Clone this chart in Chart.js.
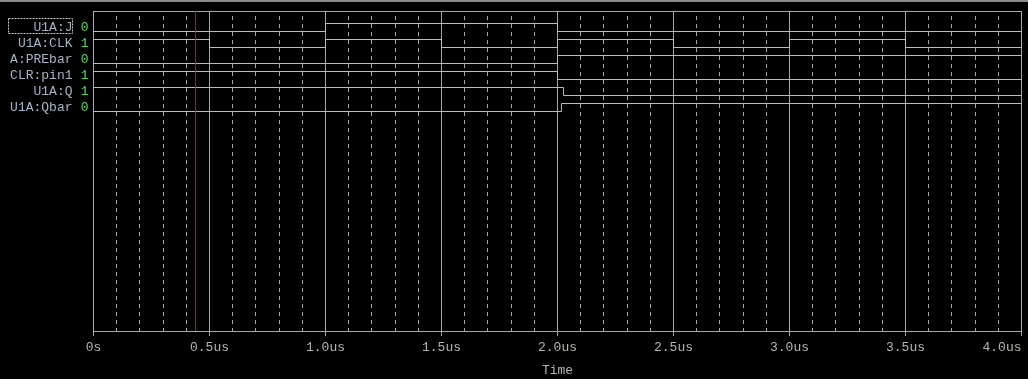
<!DOCTYPE html>
<html>
<head>
<meta charset="utf-8">
<title>U1A flip-flop waveforms</title>
<script src="https://cdn.jsdelivr.net/npm/chart.js@4.4.1/dist/chart.umd.min.js"></script>
<style>
  html, body { margin: 0; padding: 0; background: #000; overflow: hidden; }
  #wrap { position: relative; width: 1028px; height: 379px; }
  #waves { position: absolute; left: 0; top: 0; }
  #topEdge { position: absolute; left: 0; top: 0; width: 1028px; height: 2px; background: #8c8c8c; }
</style>
</head>
<body>
<div id="wrap">
  <canvas id="waves" width="1028" height="379"></canvas>
  <div id="topEdge"></div>
</div>
<script>
// signal names and the value shown at the cursor
const signalNames = ["U1A:J", "U1A:CLK", "A:PREbar", "CLR:pin1", "U1A:Q", "U1A:Qbar"];
const cursorValues = ["0", "1", "0", "1", "1", "0"];

// each signal: times (us) where the level changes, and the level from that time on
const jTimes = [0, 1.0, 2.0, 4.0];
const jBits = [0, 1, 0, 0];
const clkTimes = [0, 0.5, 1.0, 1.5, 2.0, 2.5, 3.0, 3.5, 4.0];
const clkBits = [1, 0, 1, 0, 1, 0, 1, 0, 1];
const preTimes = [0, 2.0, 4.0];
const preBits = [0, 1, 1];
const clrTimes = [0, 2.0, 4.0];
const clrBits = [1, 0, 0];
const qTimes = [0, 2.026, 4.0];
const qBits = [1, 0, 0];
const qbarTimes = [0, 2.017, 4.0];
const qbarBits = [0, 1, 1];

const cursorTime = 0.44;

const xTickValues = [0, 0.5, 1.0, 1.5, 2.0, 2.5, 3.0, 3.5, 4.0];
const xTickLabels = ["0s", "0.5us", "1.0us", "1.5us", "2.0us", "2.5us", "3.0us", "3.5us", "4.0us"];

// rows sit one unit apart (row 0 at 0, row 1 at -1 ...)
const Y_MIN = -18.96875;
const Y_MAX = 1.03125;

const GREEN = "#80e680";
const GRID = "#a8a8a8";
const OLIVE = "#b4b070";
const MONO = { family: "'Liberation Mono', 'DejaVu Sans Mono', monospace", size: 13 };

const signals = [
  [jTimes, jBits],
  [clkTimes, clkBits],
  [preTimes, preBits],
  [clrTimes, clrBits],
  [qTimes, qBits],
  [qbarTimes, qbarBits],
];

function toSteps(times, bits, row) {
  return times.map((t, k) => ({ x: t, y: -row + (bits[k] ? 0.25 : -0.25) }));
}

const minorTicks = [];
for (let k = 1; k < 40; k++) {
  if (k % 5 !== 0) minorTicks.push(k / 10);
}

const datasets = [
  {
    label: "cursor",
    data: [{ x: cursorTime, y: Y_MIN }, { x: cursorTime, y: Y_MAX }],
    borderColor: "#ff0000",
    borderWidth: 1,
    pointRadius: 0,
    order: 0,
    xAxisID: "x",
    yAxisID: "y",
  },
];
signals.forEach(([times, bits], i) => {
  datasets.push({
    label: signalNames[i],
    data: toSteps(times, bits, i),
    borderColor: GREEN,
    borderWidth: 1,
    pointRadius: 0,
    stepped: true,
    fill: false,
    order: 1,
    xAxisID: "x",
    yAxisID: "y",
  });
});

// dotted focus box round the selected trace name
const focusBox = {
  id: "focusBox",
  afterDraw(chart) {
    const names = chart.scales.yNames;
    const y = chart.scales.y.getPixelForValue(0);
    const ctx = chart.ctx;
    ctx.save();
    ctx.strokeStyle = "#c8c8c8";
    ctx.lineWidth = 1;
    ctx.setLineDash([2, 1]);
    ctx.strokeRect(names.left + 8, y - 9, names.width - 13, 15);
    ctx.restore();
  },
};

new Chart(document.getElementById("waves"), {
  type: "line",
  data: { datasets: datasets },
  plugins: [focusBox],
  options: {
    responsive: false,
    animation: false,
    events: [],
    layout: { padding: { left: 0.5, right: 6.5, top: 11, bottom: 0 } },
    plugins: { legend: { display: false }, tooltip: { enabled: false } },
    scales: {
      x: {
        type: "linear",
        position: "bottom",
        min: 0,
        max: 4,
        afterBuildTicks: (s) => { s.ticks = xTickValues.map((v) => ({ value: v })); },
        afterFit: (s) => { s.height = 48; s.paddingLeft = 0; s.paddingRight = 0; },
        grid: { color: GRID, lineWidth: 1, drawTicks: true, tickLength: 5, tickColor: GRID },
        border: { color: GRID },
        ticks: {
          autoSkip: false,
          maxRotation: 0,
          padding: 4,
          color: "#b8b4ac",
          font: MONO,
          // last label sits flush against the right edge
          callback: (v, i) => i === xTickLabels.length - 1
            ? xTickLabels[i] + " ".repeat(xTickLabels[i].length)
            : xTickLabels[i],
        },
        title: { display: true, text: "Time", color: "#b0b4b8", font: MONO, padding: { top: 0, bottom: 1 } },
      },
      xMinor: {
        type: "linear",
        position: "top",
        min: 0,
        max: 4,
        afterBuildTicks: (s) => { s.ticks = minorTicks.map((v) => ({ value: v })); },
        afterFit: (s) => { s.height = 0; s.paddingLeft = 0; s.paddingRight = 0; },
        grid: { color: GRID, lineWidth: 1, drawTicks: false },
        border: { color: GRID, dash: [4, 4], dashOffset: 4 },
        ticks: { display: false },
      },
      y: {
        type: "linear",
        position: "left",
        weight: 1,
        min: Y_MIN,
        max: Y_MAX,
        afterBuildTicks: (s) => { s.ticks = signalNames.map((_, i) => ({ value: -i })); },
        afterFit: (s) => { s.width = 16; s.paddingTop = 0; s.paddingBottom = 0; },
        grid: { display: false, drawTicks: false },
        border: { color: OLIVE },
        ticks: { autoSkip: false, padding: 5, color: "#58d858", font: MONO, callback: (v, i) => cursorValues[i] },
      },
      yNames: {
        type: "linear",
        position: "left",
        weight: 2,
        min: Y_MIN,
        max: Y_MAX,
        afterBuildTicks: (s) => { s.ticks = signalNames.map((_, i) => ({ value: -i })); },
        afterFit: (s) => { s.width = 77; s.paddingTop = 0; s.paddingBottom = 0; },
        grid: { display: false, drawTicks: false },
        border: { display: false },
        ticks: { autoSkip: false, padding: 5, color: "#a4b4c4", font: MONO, callback: (v, i) => signalNames[i] },
      },
      yRight: {
        type: "linear",
        position: "right",
        min: Y_MIN,
        max: Y_MAX,
        afterFit: (s) => { s.width = 0; },
        grid: { display: false, drawTicks: false },
        border: { color: GRID },
        ticks: { display: false },
      },
    },
  },
});
</script>
</body>
</html>
